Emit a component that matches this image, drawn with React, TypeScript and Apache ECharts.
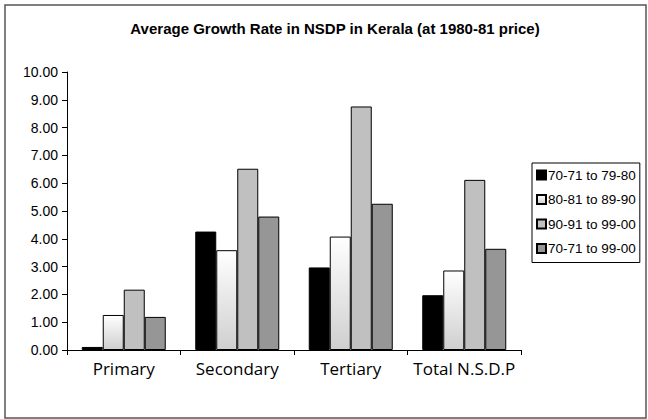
import React, { useEffect, useRef } from "react";
import * as echarts from "echarts";

const categories = ["Primary", "Secondary", "Tertiary", "Total N.S.D.P"];
const seriesNames = ["70-71 to 79-80", "80-81 to 89-90", "90-91 to 99-00", "70-71 to 99-00"];
const s1970s = [0.11, 4.26, 2.97, 1.97];
const s1980s = [1.26, 3.59, 4.08, 2.86];
const s1990s = [2.17, 6.52, 8.76, 6.12];
const sAll = [1.19, 4.8, 5.26, 3.64];
const yTicks = { min: 0, max: 10, interval: 1 };

export default function App() {
  const ref = useRef<HTMLDivElement>(null);
  useEffect(() => {
    if (!ref.current) return;
    const chart = echarts.init(ref.current, null, { renderer: "svg" });
    const gradient = new echarts.graphic.LinearGradient(0, 0, 0, 1, [
      { offset: 0, color: "#ffffff" },
      { offset: 1, color: "#cfcfcf" },
    ]);
    const fills = ["#000000", gradient, "#c0c0c0", "#969696"];
    const data = [s1970s, s1980s, s1990s, sAll];
    chart.setOption({
      animation: false,
      backgroundColor: "#ffffff",
      title: {
        text: "Average Growth Rate in NSDP in Kerala (at 1980-81 price)",
        left: 330,
        textAlign: "center",
        top: 16,
        textStyle: { fontFamily: "Liberation Sans", fontSize: 15, fontWeight: "bold", color: "#000" },
      },
      graphic: [
        {
          type: "rect",
          shape: { x: 5, y: 5, width: 641, height: 413 },
          style: { fill: "none", stroke: "#555", lineWidth: 1.5 },
          silent: true,
        },
      ],
      legend: {
        orient: "vertical",
        left: 532,
        top: 163,
        itemWidth: 9,
        itemHeight: 9,
        itemGap: 10.5,
        padding: [5, 4, 7, 4],
        borderColor: "#000",
        borderWidth: 1,
        icon: "rect",
        textStyle: { fontFamily: "Liberation Sans", fontSize: 13.5, color: "#000", padding: [0, 0, 0, -3] },
        data: seriesNames,
      },
      grid: { left: 67, right: 127, top: 72, bottom: 69 },
      xAxis: {
        type: "category",
        data: categories,
        axisLine: { lineStyle: { color: "#000", width: 1 } },
        axisTick: { show: true, length: 5, lineStyle: { color: "#000" } },
        axisLabel: { fontFamily: "Open Sans", fontSize: 17, color: "#000", margin: 10, interval: 0 },
      },
      yAxis: {
        type: "value",
        min: yTicks.min,
        max: yTicks.max,
        interval: yTicks.interval,
        splitLine: { show: false },
        axisLine: { show: true, lineStyle: { color: "#000", width: 1 } },
        axisTick: { show: true, length: 5, lineStyle: { color: "#000" } },
        axisLabel: {
          fontFamily: "Liberation Sans",
          fontSize: 14,
          color: "#000",
          margin: 9,
          formatter: (v: number) => v.toFixed(2),
        },
      },
      series: data.map((d, i) => ({
        name: seriesNames[i],
        type: "bar",
        data: d,
        barWidth: 21,
        barGap: "0%",
        itemStyle: { color: fills[i], borderColor: "#000", borderWidth: 1 },
      })),
    });
    return () => chart.dispose();
  }, []);
  return <div ref={ref} style={{ position: "absolute", left: 0, top: 0, width: 648, height: 419 }} />;
}
